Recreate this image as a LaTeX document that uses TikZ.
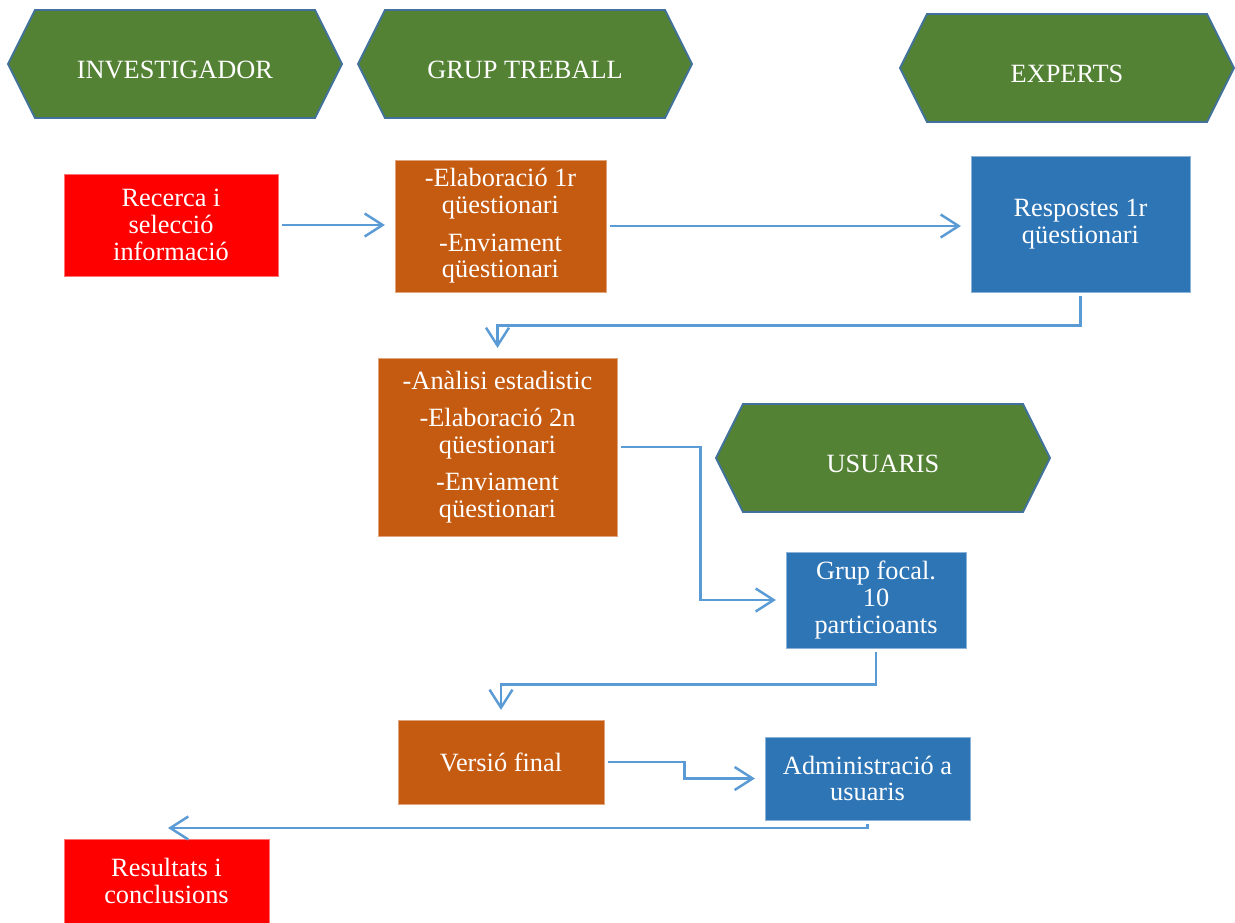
\documentclass[tikz,border=0pt]{standalone}
\usepackage{fontspec}
\setmainfont{Liberation Serif}
\usetikzlibrary{shapes.symbols,arrows.meta}
\definecolor{hexgreen}{HTML}{548235}
\definecolor{hexline}{HTML}{41719C}
\definecolor{boxorange}{HTML}{C55A11}
\definecolor{boxblue}{HTML}{2E75B6}
\definecolor{boxred}{HTML}{FF0000}
\definecolor{flowblue}{HTML}{5B9BD5}

\begin{document}
\begin{tikzpicture}[x=0.02cm,y=-0.02cm,
  role/.style={signal, signal to=west and east, signal pointer angle=126.87,
    fill=hexgreen, draw=hexline, line width=1.1pt, minimum width=6.68cm, minimum height=2.16cm,
    inner sep=0pt, text=white, font=\fontsize{15}{15.3}\selectfont, text height=17pt, text depth=0pt},
  task/.style={rectangle, draw=#1!55!white, line width=0.5pt, fill=#1, text=white, align=center,
    font=\fontsize{15}{15.3}\selectfont, inner sep=0pt},
  flow/.style={draw=flowblue, line width=1.4pt, -{Straight Barb[length=3.6mm,width=4.6mm]},
    shorten <=2pt, shorten >=5.5pt}]
\useasboundingbox (0,0) rectangle (1235,923);

\node[role] (investigador) at (175,64) {INVESTIGADOR};
\node[role] (grup) at (525,64) {GRUP TREBALL};
\node[role] (experts) at (1067,68) {EXPERTS};
\node[role] (usuaris) at (883,458) {USUARIS};

\node[task=boxred, minimum width=4.28cm, minimum height=2.04cm] (recerca) at (171,225) {Recerca i\\ selecció\\ informació};
\node[task=boxorange, minimum width=4.22cm, minimum height=2.64cm] (elabora) at (500.5,226) {-Elaboració 1r\\ qüestionari\\[6pt] -Enviament\\ qüestionari};
\node[task=boxblue, minimum width=4.38cm, minimum height=2.72cm] (respostes) at (1080.5,224) {Respostes 1r\\ qüestionari};
\node[task=boxorange, minimum width=4.78cm, minimum height=3.56cm] (analisi) at (497.5,447) {-Anàlisi estadistic\\[6pt] -Elaboració 2n\\ qüestionari\\[6pt] -Enviament\\ qüestionari};
\node[task=boxblue, minimum width=3.6cm, minimum height=1.92cm] (focal) at (876,600) {Grup focal.\\ 10\\ particioants};
\node[task=boxorange, minimum width=4.12cm, minimum height=1.68cm] (versio) at (501,762) {Versió final};
\node[task=boxblue, minimum width=4.1cm, minimum height=1.66cm] (admin) at (867.5,778.5) {Administració a\\ usuaris};
\node[task=boxred, minimum width=4.1cm, minimum height=1.68cm] (resultats) at (166.5,881) {Resultats i\\ conclusions};
\coordinate (resin) at (168,828);

\draw[flow] (recerca.east) -- (recerca.east -| elabora.west);
\draw[flow] (elabora.east) -- (elabora.east -| respostes.west);
\draw[flow] (respostes.south) -- ++(0,33) -| (analisi.north);
\draw[flow] (analisi.east) -- ++(83,0) |- (focal.west);
\draw[flow] (focal.south) -- ++(0,36) -| (versio.north);
\draw[flow] (versio.east) -- ++(80,0) |- (admin.west);
\draw[flow, shorten >=0pt] (admin.south) |- (resin);
\end{tikzpicture}
\end{document}
